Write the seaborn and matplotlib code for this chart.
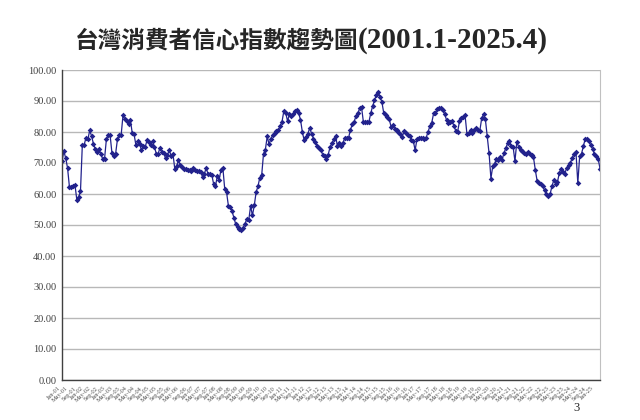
import matplotlib
matplotlib.use("Agg")
import matplotlib.pyplot as plt
import seaborn as sns
import pandas as pd

TITLE_ZH = "台灣消費者信心指數趨勢圖"
TITLE_RANGE = "(2001.1-2025.4)"

# monthly consumer confidence index
CCI_2001 = [70.5, 73.8, 71.6, 68.4, 62.4, 62.4, 62.7, 63.0, 58.2, 59.0, 61.0, 75.9]
CCI_2002 = [75.9, 78.2, 77.7, 80.5, 78.7, 76.2, 74.5, 73.7, 74.5, 73.0, 71.3, 71.3]
CCI_2003 = [77.6, 79.1, 79.1, 73.3, 72.3, 73.0, 77.7, 79.1, 79.1, 85.4, 84.1, 83.5]
CCI_2004 = [82.7, 83.8, 79.6, 79.2, 75.7, 77.0, 76.1, 74.1, 75.6, 75.2, 77.3, 76.9]
CCI_2005 = [75.9, 77.0, 75.2, 73.0, 73.0, 74.9, 73.5, 73.3, 71.5, 72.5, 74.1, 72.4]
CCI_2006 = [73.0, 68.1, 69.0, 70.9, 69.2, 68.7, 68.2, 68.0, 67.8, 67.6, 67.5, 68.4]
CCI_2007 = [67.6, 67.5, 67.5, 67.2, 65.5, 66.5, 68.4, 66.4, 66.4, 66.2, 63.3, 62.5]
CCI_2008 = [65.8, 64.5, 67.9, 68.5, 61.7, 60.6, 56.2, 55.8, 54.4, 52.3, 50.2, 49.3]
CCI_2009 = [48.8, 48.4, 49.1, 50.4, 52.0, 51.5, 56.1, 53.1, 56.3, 60.6, 62.5, 65.3]
CCI_2010 = [66.0, 73.0, 74.3, 78.6, 76.0, 77.9, 78.9, 79.7, 80.3, 80.6, 81.9, 83.3]
CCI_2011 = [86.8, 86.2, 83.5, 85.8, 85.1, 85.7, 86.8, 87.1, 86.0, 84.0, 80.0, 77.3]
CCI_2012 = [78.4, 79.5, 81.3, 79.5, 77.9, 76.8, 75.4, 75.0, 74.3, 72.7, 72.2, 71.2]
CCI_2013 = [72.7, 75.2, 76.3, 77.6, 78.6, 75.4, 76.5, 75.4, 76.5, 78.2, 78.2, 78.2]
CCI_2014 = [80.6, 82.5, 83.3, 85.1, 86.0, 87.6, 88.1, 83.3, 83.3, 83.3, 83.3, 86.0]
CCI_2015 = [88.3, 90.2, 91.8, 93.0, 91.4, 89.8, 86.2, 85.5, 84.7, 84.1, 81.7, 82.2]
CCI_2016 = [81.1, 80.6, 80.0, 79.5, 78.4, 80.3, 79.8, 79.0, 78.7, 77.4, 77.2, 74.1]
CCI_2017 = [77.7, 78.1, 78.2, 78.2, 77.9, 78.2, 80.0, 81.9, 83.0, 86.0, 86.2, 87.3]
CCI_2018 = [87.8, 87.8, 87.1, 85.7, 83.9, 82.8, 83.3, 83.5, 81.9, 80.4, 80.1, 83.5]
CCI_2019 = [84.4, 84.7, 85.5, 79.5, 79.8, 80.6, 79.8, 80.8, 81.2, 80.8, 80.4, 84.4]
CCI_2020 = [85.7, 84.1, 78.7, 73.1, 65.0, 69.0, 69.8, 71.4, 71.1, 71.8, 70.9, 73.1]
CCI_2021 = [74.7, 76.3, 77.1, 75.4, 75.2, 70.6, 76.8, 75.2, 74.3, 73.9, 73.3, 73.0]
CCI_2022 = [73.5, 73.0, 72.5, 71.9, 67.8, 64.2, 63.5, 63.1, 62.5, 61.2, 59.9, 59.2]
CCI_2023 = [59.9, 62.5, 64.4, 63.3, 63.9, 66.8, 68.2, 67.1, 66.6, 68.5, 69.2, 70.0]
CCI_2024 = [71.7, 73.0, 73.5, 63.5, 72.2, 73.0, 75.4, 77.8, 77.8, 77.1, 75.7, 74.6]
CCI_2025 = [72.8, 72.2, 71.4, 68.2]

Y_TICKS = [0, 10, 20, 30, 40, 50, 60, 70, 80, 90, 100]
LABEL_STEP = 4  # one category label every 4 months

cci = (CCI_2001 + CCI_2002 + CCI_2003 + CCI_2004 + CCI_2005 + CCI_2006 + CCI_2007
       + CCI_2008 + CCI_2009 + CCI_2010 + CCI_2011 + CCI_2012 + CCI_2013 + CCI_2014
       + CCI_2015 + CCI_2016 + CCI_2017 + CCI_2018 + CCI_2019 + CCI_2020 + CCI_2021
       + CCI_2022 + CCI_2023 + CCI_2024 + CCI_2025)
months = pd.period_range("2001-01", periods=len(cci), freq="M")
df = pd.DataFrame({"pos": range(len(cci)), "cci": cci, "month": months})

sns.set_style("white")
plt.rcParams["font.family"] = ["Liberation Serif", "Noto Sans CJK TC"]

fig = plt.figure(figsize=(6.4, 4.2), dpi=100)
ax = fig.add_axes([62 / 640, 40 / 420, 538 / 640, 310 / 420])

sns.lineplot(data=df, x="pos", y="cci", ax=ax, color="#22228c", lw=0.9,
             marker="D", markersize=2.9, markeredgewidth=0)

ax.set_xlim(0, len(cci) - 1)
ax.set_ylim(0, 100)
ax.set_yticks(Y_TICKS)
ax.set_yticklabels([f"{v:.2f}" for v in Y_TICKS], fontsize=7.5, color="#404040")
ax.yaxis.grid(True, color="#b8b8b8", lw=1)
ax.set_axisbelow(True)

tick_pos = df["pos"][::LABEL_STEP]
tick_lab = [m.strftime("%b-%y") for m in df["month"][::LABEL_STEP]]
ax.set_xticks(tick_pos)
ax.set_xticklabels(tick_lab, rotation=45, ha="right", fontsize=4.5, color="#505050")
ax.tick_params(axis="x", length=3, width=0.6, color="#404040", pad=1)
ax.tick_params(axis="y", length=0, pad=4)
ax.set_xlabel("")
ax.set_ylabel("")

for side in ["left", "bottom"]:
    ax.spines[side].set_color("#404040")
    ax.spines[side].set_linewidth(1.0)
ax.spines["right"].set_color("#c0c0c0")
ax.spines["top"].set_visible(False)

fig.text(358 / 640, 1 - 41 / 420, TITLE_ZH, ha="right", va="center",
         fontsize=17, fontweight="bold", family=["Noto Sans CJK TC"])
fig.text(358 / 640, 1 - 41 / 420, TITLE_RANGE, ha="left", va="center",
         fontsize=21, fontweight="bold", family=["Liberation Serif"])
fig.text(577 / 640, 1 - 408 / 420, "3", ha="center", va="center", fontsize=9,
         family=["Liberation Serif"])

fig.savefig("out.png", dpi=100)
